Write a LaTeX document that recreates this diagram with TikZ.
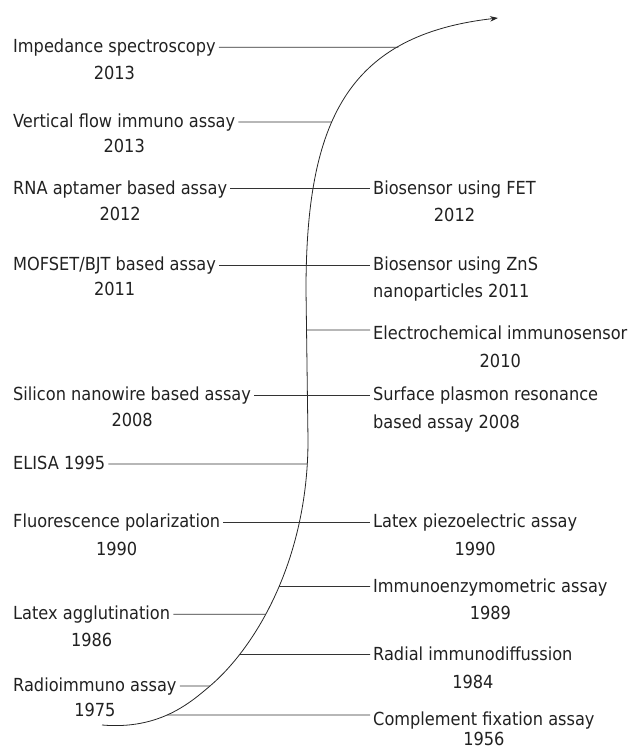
\documentclass[tikz,border=0pt]{standalone}
\usepackage{fontspec}
\setmainfont{DejaVu Sans Condensed}
\usetikzlibrary{arrows.meta,intersections}
\begin{document}
\begin{tikzpicture}[x=1pt,y=-1pt,
  lbl/.style={font=\fontsize{18}{21}\selectfont, text=black!87, inner xsep=3pt, inner ysep=0pt,
              text height=13pt, text depth=2pt},
  ttl/.style={lbl, anchor=base west},
  yr/.style={lbl, anchor=base},
  link/.style={draw=black!80, line width=0.8pt},
  curve/.style={draw=black!85, line width=0.8pt, -{Stealth[length=8pt,width=5.5pt]}}]
\useasboundingbox (0,0) rectangle (628,749);

% the time line
\coordinate (start) at (102,725);
\coordinate (bend)  at (210,686);
\coordinate (tip)   at (498,18);
\draw[curve, name path=curve] (start) .. controls (160,730) and (191,702) .. (bend)
   .. controls (255.6,647) and (308,560) .. (308,440)
   -- (306,290) .. controls (306,120) and (348,35) .. (tip);

% left column
\node[ttl] (imp)   at (10,52.8)  {Impedance spectroscopy};
\node[yr]  (impY)  at (imp.center |- 0,80) {2013};
\node[ttl] (vfa)   at (10,127.5) {Vertical flow immuno assay};
\node[yr]  (vfaY)  at (vfa.center |- 0,152.7) {2013};
\node[ttl] (rna)   at (10,194) {RNA aptamer based assay};
\node[yr]  (rnaY)  at (rna.center |- 0,220) {2012};
\node[ttl] (mos)   at (10,270.5) {MOFSET/BJT based assay};
\node[yr]  (mosY)  at (mos.center |- 0,295.5) {2011};
\node[ttl] (sin)   at (10,400.5) {Silicon nanowire based assay};
\node[yr]  (sinY)  at (sin.center |- 0,426.7) {2008};
\node[ttl] (elisa) at (10,469.5) {ELISA 1995};
\node[ttl] (fp)    at (10,527.5) {Fluorescence polarization};
\node[yr]  (fpY)   at (fp.center |- 0,555) {1990};
\node[ttl] (lagg)  at (10,619.8) {Latex agglutination};
\node[yr]  (laggY) at (lagg.center |- 0,646) {1986};
\node[ttl] (ria)   at (10,691.5) {Radioimmuno assay};
\node[yr]  (riaY)  at (ria.center |- 0,716.7) {1975};

% right column
\node[ttl] (fet)   at (370,194) {Biosensor using FET};
\node[yr]  (fetY)  at (fet.center |- 0,221.7) {2012};
\node[ttl] (zns)   at (370,270.5) {Biosensor using ZnS};
\node[ttl] (znsB)  at (370,297) {nanoparticles 2011};
\node[ttl] (echem) at (370,339) {Electrochemical immunosensor};
\node[yr]  (echemY) at (echem.center |- 0,367) {2010};
\node[ttl] (spr)   at (370,400.5) {Surface plasmon resonance};
\node[ttl] (sprB)  at (370,428) {based assay 2008};
\node[ttl] (lpz)   at (370,527.5) {Latex piezoelectric assay};
\node[yr]  (lpzY)  at (lpz.center |- 0,555) {1990};
\node[ttl] (iema)  at (370,592) {Immunoenzymometric assay};
\node[yr]  (iemaY) at (iema.center |- 0,619.3) {1989};
\node[ttl] (rid)   at (370,660) {Radial immunodiffussion};
\node[yr]  (ridY)  at (rid.center |- 0,688) {1984};
\node[ttl] (cfa)   at (370,725) {Complement fixation assay};
\node[yr]  (cfaY)  at (cfa.center |- 0,745.5) {1956};

% connectors that cross the time line
\draw[link] (rna.east) -- (fet.west);
\draw[link] (mos.east) -- (zns.west);
\draw[link] (sin.east) -- (spr.west);
\draw[link] (fp.east)  -- (lpz.west);

% connectors that end on the time line
\foreach \n/\a/\d/\s in {imp/east/1/0, vfa/east/1/0, elisa/east/1/0, lagg/east/1/0, ria/east/1/0,
                         echem/west/-1/3.5, iema/west/-1/0, rid/west/-1/0, cfa/west/-1/4.5} {
  \path[name path=h-\n] ([yshift=\s pt]\n.\a) -- ++(\d*400,0);
  \draw[link, name intersections={of=curve and h-\n, by=x-\n}] ([yshift=\s pt]\n.\a) -- (x-\n);
}
\end{tikzpicture}
\end{document}
